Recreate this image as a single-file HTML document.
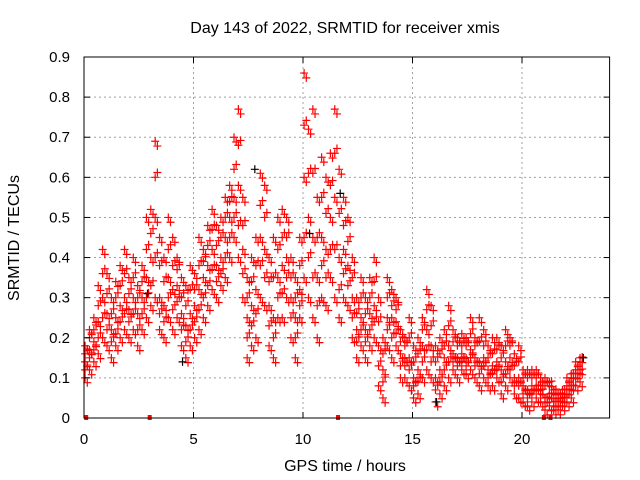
<!DOCTYPE html>
<html><head><meta charset="utf-8"><style>
body{margin:0;background:#fff}
svg{display:block;font-family:"Liberation Sans",sans-serif}
</style></head><body>
<svg id="c" width="640" height="480">
<rect width="640" height="480" fill="#fff"/>
<g id="grid"></g>
<g id="marks"></g>
<rect x="84" y="57" width="525.6" height="361" fill="none" stroke="#000" stroke-width="1"/>
<g id="ticks"></g>
<text x="345" y="33" font-size="16" text-anchor="middle">Day 143 of 2022, SRMTID for receiver xmis</text>
<text x="345" y="471" font-size="16" text-anchor="middle">GPS time / hours</text>
<text transform="translate(19,238) rotate(-90)" font-size="16" text-anchor="middle">SRMTID / TECUs</text>
</svg>
<script>
const xTicks=[0,5,10,15,20];
const yTicks=[0,0.1,0.2,0.3,0.4,0.5,0.6,0.7,0.8,0.9];
const yTickLabels=["0","0.1","0.2","0.3","0.4","0.5","0.6","0.7","0.8","0.9"];
const hours=[0.1,0.3,0.5,0.7,0.9,1.1,1.3,1.5,1.7,1.9,2.1,2.3,2.5,2.7,2.9,3.1,3.3,3.5,3.7,3.9,4.1,4.3,4.5,4.7,4.9,5.1,5.3,5.5,5.7,5.9,6.1,6.3,6.5,6.7,6.9,7.1,7.3,7.5,7.7,7.9,8.1,8.3,8.5,8.7,8.9,9.1,9.3,9.5,9.7,9.9,10.1,10.3,10.5,10.7,10.9,11.1,11.3,11.5,11.7,11.9,12.1,12.3,12.5,12.7,12.9,13.1,13.3,13.5,13.7,13.9,14.1,14.3,14.5,14.7,14.9,15.1,15.3,15.5,15.7,15.9,16.1,16.3,16.5,16.7,16.9,17.1,17.3,17.5,17.7,17.9,18.1,18.3,18.5,18.7,18.9,19.1,19.3,19.5,19.7,19.9,20.1,20.3,20.5,20.7,20.9,21.1,21.3,21.5,21.7,21.9,22.1,22.3,22.5,22.7];
const lowVals=[.10,.12,.14,.16,.20,.18,.15,.18,.20,.22,.20,.22,.18,.22,.25,.28,.30,.22,.20,.25,.22,.25,.18,.15,.18,.20,.22,.25,.28,.32,.30,.33,.35,.40,.45,.40,.30,.15,.18,.20,.30,.28,.18,.15,.25,.25,.30,.20,.15,.25,.35,.30,.25,.20,.30,.28,.35,.30,.25,.30,.28,.20,.15,.18,.15,.18,.20,.08,.05,.18,.15,.18,.10,.10,.08,.05,.06,.10,.12,.10,.04,.06,.08,.10,.12,.10,.12,.11,.12,.10,.08,.10,.08,.08,.10,.06,.08,.10,.06,.05,.04,.03,.04,.05,.04,.02,.03,.02,.02,.03,.04,.05,.08,.09];
const lowerMidVals=[.12,.15,.17,.20,.25,.22,.19,.21,.24,.26,.24,.26,.22,.26,.30,.33,.40,.26,.24,.30,.27,.29,.22,.19,.22,.24,.27,.30,.33,.37,.34,.36,.40,.45,.50,.48,.36,.20,.23,.26,.38,.35,.23,.20,.30,.31,.35,.25,.20,.28,.45,.40,.35,.28,.38,.35,.42,.42,.32,.36,.33,.25,.19,.22,.19,.22,.24,.13,.09,.22,.20,.21,.13,.13,.12,.08,.09,.14,.17,.14,.07,.09,.12,.14,.14,.13,.14,.13,.15,.13,.11,.13,.10,.11,.12,.09,.11,.12,.08,.08,.06,.05,.06,.07,.06,.04,.05,.03,.03,.04,.06,.07,.10,.11];
const midVals=[.14,.17,.19,.24,.30,.26,.22,.25,.28,.30,.27,.30,.26,.30,.35,.40,.50,.30,.28,.35,.32,.33,.26,.23,.26,.28,.32,.35,.38,.42,.38,.40,.45,.50,.55,.58,.42,.25,.28,.32,.45,.42,.28,.25,.35,.38,.40,.30,.25,.32,.60,.50,.45,.35,.45,.42,.50,.55,.40,.42,.38,.30,.22,.25,.22,.26,.28,.18,.12,.25,.25,.24,.16,.15,.15,.10,.12,.18,.22,.18,.10,.12,.15,.18,.16,.15,.16,.15,.17,.15,.14,.15,.12,.13,.14,.12,.14,.15,.10,.10,.08,.07,.08,.08,.07,.05,.06,.04,.04,.05,.07,.08,.11,.12];
const upperMidVals=[.16,.20,.22,.28,.36,.31,.26,.30,.33,.36,.31,.35,.30,.34,.42,.46,.60,.38,.34,.42,.38,.37,.30,.28,.32,.32,.38,.39,.43,.47,.43,.45,.50,.54,.62,.68,.48,.30,.34,.38,.53,.50,.34,.35,.42,.45,.45,.35,.30,.38,.73,.61,.61,.45,.55,.51,.58,.66,.51,.48,.44,.35,.26,.30,.26,.30,.34,.24,.16,.30,.28,.27,.19,.18,.20,.14,.16,.22,.27,.23,.14,.16,.18,.23,.19,.18,.18,.18,.21,.18,.19,.18,.15,.16,.17,.15,.18,.18,.13,.14,.10,.10,.10,.10,.08,.08,.08,.06,.05,.06,.08,.10,.12,.14];
const highVals=[.18,.22,.25,.33,.42,.36,.30,.34,.38,.42,.35,.40,.33,.38,.50,.52,.69,.45,.40,.50,.45,.40,.35,.33,.38,.36,.45,.42,.48,.52,.48,.50,.55,.58,.70,.77,.55,.35,.40,.45,.61,.58,.40,.45,.50,.52,.50,.40,.35,.45,.86,.72,.77,.55,.65,.60,.66,.77,.62,.55,.50,.40,.30,.35,.30,.35,.40,.30,.20,.35,.32,.30,.22,.20,.25,.18,.20,.25,.32,.28,.18,.20,.22,.28,.22,.20,.21,.20,.25,.20,.25,.22,.18,.20,.20,.18,.22,.20,.16,.18,.12,.12,.12,.12,.10,.10,.09,.07,.06,.07,.10,.11,.14,.15];
const blackHours=[4.5,7.8,11.7,16.1,22.8,2.9,10.3];
const blackVals=[.14,.62,.56,.04,.15,.31,.46];
const baseHours=[0.1,3.0,11.6,21.0,21.3];
const NS='http://www.w3.org/2000/svg';
const X0=84,X1=609.6,Y0=418,Y1=57;
const xs=h=>X0+h/24*(X1-X0);
const ys=v=>Y0-v/0.9*(Y0-Y1);
const grid=document.getElementById('grid'),ticks=document.getElementById('ticks'),marks=document.getElementById('marks');
function mk(tag,attrs,parent){const e=document.createElementNS(NS,tag);for(const k in attrs)e.setAttribute(k,attrs[k]);parent.appendChild(e);return e;}
xTicks.forEach(t=>{const x=xs(t);
 if(t>0){const g=mk('line',{x1:x,x2:x,y1:Y1,y2:Y0,stroke:'#a0a0a0','stroke-dasharray':'2,3'},grid);}
 const a=mk('line',{x1:x,x2:x,y1:Y0,y2:Y0-6,stroke:'#000'},ticks);
 const b=mk('line',{x1:x,x2:x,y1:Y1,y2:Y1+6,stroke:'#000'},ticks);
 const l=mk('text',{x:x,y:444,'font-size':15,'text-anchor':'middle'},ticks);l.textContent=t;});
yTicks.forEach((v,i)=>{const y=ys(v);
 if(i>0&&i<yTicks.length-1){const g=mk('line',{x1:X0,x2:X1,y1:y,y2:y,stroke:'#a0a0a0','stroke-dasharray':'2,3'},grid);}
 const a=mk('line',{x1:X0,x2:X0+6,y1:y,y2:y,stroke:'#000'},ticks);
 const b=mk('line',{x1:X1,x2:X1-6,y1:y,y2:y,stroke:'#000'},ticks);
 const l=mk('text',{x:70,y:y+5,'font-size':15,'text-anchor':'end'},ticks);l.textContent=yTickLabels[i];});
function plus(h,v,col,name){const x=xs(h),y=ys(v);
 const p=mk('path',{d:`M${x-4},${y}h8M${x},${y-4}v8`,stroke:col,'stroke-width':1.2,fill:'none'},marks);
 
 }
hours.forEach((h,i)=>{
 [lowVals,lowerMidVals,midVals,upperMidVals,highVals].forEach((arr,k)=>{
  plus(h-0.05,arr[i],'#f00','point');
  plus(h+0.05,arr[i]+(k%2?0.012:-0.012),'#f00','point');
 });
});
blackHours.forEach((h,i)=>plus(h,blackVals[i],'#000','black-point'));
baseHours.forEach(h=>{const r=mk('rect',{x:xs(h)-2,y:Y0-3,width:4,height:5,fill:'#f00'},marks);});
</script>
</body></html>
